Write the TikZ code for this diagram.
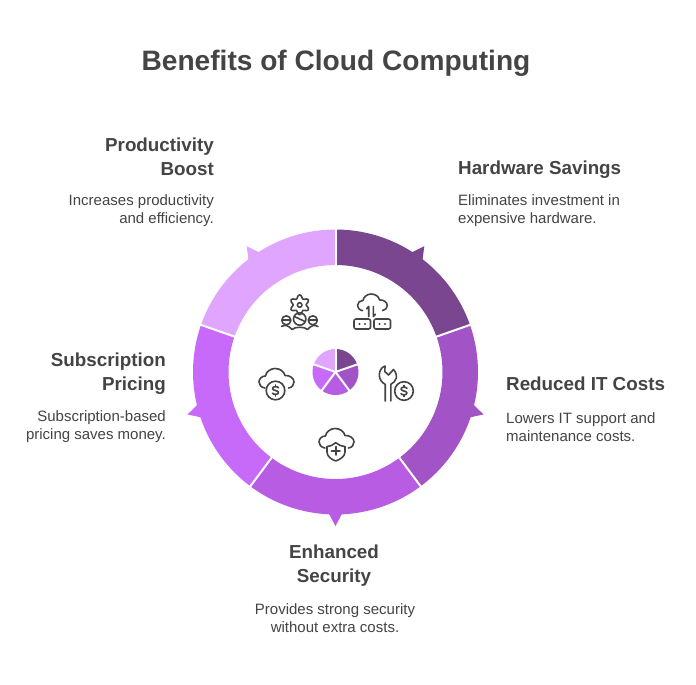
\documentclass[tikz,border=0pt]{standalone}
\usepackage{fontspec}
\setmainfont{Liberation Sans}
\definecolor{segA}{HTML}{7A468F}
\definecolor{segB}{HTML}{A253C6}
\definecolor{segC}{HTML}{B75CE3}
\definecolor{segD}{HTML}{C769F9}
\definecolor{segE}{HTML}{E0A5FF}
\definecolor{ink}{HTML}{444444}
\newcommand{\ringseg}[4]{%
  \fill[#4] (#1:142.5pt) arc[start angle=#1,end angle=#3+2.5,radius=142.5pt]
    -- (#3:154pt) -- (#3-2.5:142.5pt)
    arc[start angle=#3-2.5,end angle=#2,radius=142.5pt]
    -- (#2:107pt) arc[start angle=#2,end angle=#1,radius=107pt] -- cycle;
  \fill[#4] (0,0) -- (#1:23pt) arc[start angle=#1,end angle=#2,radius=23pt] -- cycle;
}
\tikzset{
  titletext/.style={text=ink,font=\bfseries\fontsize{28.1}{34}\selectfont,inner sep=0pt},
  headtext/.style={text=ink,font=\bfseries\fontsize{18.8}{24}\selectfont,inner sep=0pt},
  bodytext/.style={text=ink,font=\fontsize{15}{18}\selectfont,inner sep=0pt},
  iconline/.style={draw=ink,line width=1.6pt,line cap=round,line join=round},
  gapline/.style={draw=white,line width=2pt},
  cloudic/.pic={\draw[iconline] (6,19.5) .. controls (2,19) and (0,16) .. (0,13.5)
     .. controls (0,10) and (3,7.5) .. (6.5,7.5) .. controls (7,3) and (12,0) .. (16,0)
     .. controls (21,0) and (25,3) .. (26,7) .. controls (31,6.5) and (35,10) .. (35,13.5)
     .. controls (35,16.5) and (33,19) .. (29.5,19.5);},
  coinic/.pic={\draw[iconline] (0,0) circle[radius=9.3pt];
     \draw[iconline] (3,-2.6) .. controls (2.5,-4.4) and (-3,-4.4) .. (-3,-2)
       .. controls (-3,0.5) and (3,-0.5) .. (3,2) .. controls (3,4.4) and (-2.5,4.4) .. (-3,2.6);
     \draw[iconline] (0,-5.6)--(0,-3.9) (0,3.9)--(0,5.6);},
  boxic/.pic={\draw[iconline,rounded corners=2pt] (0,0) rectangle (16.5,10);
     \fill[ink] (5.5,5) circle[radius=1.1pt] (11,5) circle[radius=1.1pt];}
}
\begin{document}
\begin{tikzpicture}[x=1pt,y=-1pt]
\useasboundingbox[fill=white] (0,0) rectangle (696,685);

\begin{scope}[shift={(335.5,372)},y=1pt]
  \ringseg{90}{19.3}{54.8}{segA}
  \ringseg{19.3}{-53.3}{-16}{segB}
  \ringseg{-53.3}{-126.7}{-90}{segC}
  \ringseg{-126.7}{-199.3}{-164}{segD}
  \ringseg{160.7}{90}{125.2}{segE}
  \foreach \a in {90,19.3,-53.3,-126.7,160.7}{
    \draw[gapline] (\a:105pt) -- (\a:144pt);
    \draw[gapline] (0,0) -- (\a:24pt);
  }
\end{scope}

% icons
\pic at (357.5,294) [scale=.85] {cloudic};
\draw[iconline] (368.7,316.5) -- (368.7,306.5) (366.6,308.8) -- (368.7,306.5);
\draw[iconline] (373.3,306.5) -- (373.3,316.5) (375.4,314.2) -- (373.3,316.5);
\pic at (354,319) {boxic};
\pic at (374,319) {boxic};

\draw[iconline] plot[smooth cycle,samples=36,domain=0:350,variable=\t]
  ({299.7+(8.2+1.8*cos(6*\t+180))*cos(\t)},{304.8+(8.2+1.8*cos(6*\t+180))*sin(\t)});
\draw[iconline] (299.7,305) circle[radius=2.3pt];
\draw[iconline] (299.7,319) circle[radius=6.2pt] (286.3,320.3) circle[radius=4.5pt] (312.8,320.3) circle[radius=4.5pt];
\draw[iconline] (294.3,316.5) -- (305,321.5) (282,320) -- (290.6,320) (308.5,320) -- (317.1,320);
\draw[iconline] (281.5,326.5) .. controls (285,324.5) and (288,325) .. (292,329.5)
  .. controls (295,326.5) and (304.5,326.5) .. (307.5,329.5)
  .. controls (311.5,325) and (314.5,324.5) .. (318,326.5);

\pic at (259,368.5) {cloudic};
\pic at (275.5,390.5) {coinic};

\pic at (319,428.5) {cloudic};
\draw[iconline] (327,446.5) .. controls (331,446) and (333,445) .. (335.7,442.7)
  .. controls (338.5,445) and (341,446) .. (345,446.5) -- (345,452)
  .. controls (345,456.5) and (340,459.5) .. (335.7,461)
  .. controls (331.5,459.5) and (327,456.5) .. (327,452) -- cycle;
\draw[iconline] (335.7,446.5) -- (335.7,455) (331.5,450.8) -- (340,450.8);

\draw[iconline] (385.2,401) -- (385.2,384.3)
  .. controls (381.5,382.5) and (379.3,379) .. (379.3,375)
  .. controls (379.3,370.5) and (381.5,367.5) .. (385,366)
  -- (384.8,371.5) -- (388.5,375) -- (393.5,369.5)
  .. controls (396.2,372.5) and (396.8,376) .. (396.3,378)
  .. controls (395.5,381) and (393.5,383) .. (390.8,384.3) -- (390.8,401);
\pic at (404,391) {coinic};

% texts
\node[titletext] (title) at (336,63) {Benefits of Cloud Computing};

\node[headtext,anchor=west] (hw) at (458,170) {Hardware Savings};
\node[bodytext,anchor=west,align=left] (hwb) at (458,210.5) {Eliminates investment in\\expensive hardware.};

\node[headtext,anchor=east,align=right] (pb) at (214,156.5) {Productivity\\Boost};
\node[bodytext,anchor=east,align=right] (pbb) at (214,210.5) {Increases productivity\\and efficiency.};

\node[headtext,anchor=west] (it) at (506,384) {Reduced IT Costs};
\node[bodytext,anchor=west,align=left] (itb) at (506,427) {Lowers IT support and\\maintenance costs.};

\node[headtext,anchor=east,align=right] (sp) at (166,374) {Subscription\\Pricing};
\node[bodytext,anchor=east,align=right] (spb) at (166,427) {Subscription-based\\pricing saves money.};

\node[headtext,align=center] (es) at (334,566) {Enhanced\\Security};
\node[bodytext,align=center] (esb) at (335,618) {Provides strong security\\without extra costs.};
\end{tikzpicture}
\end{document}
